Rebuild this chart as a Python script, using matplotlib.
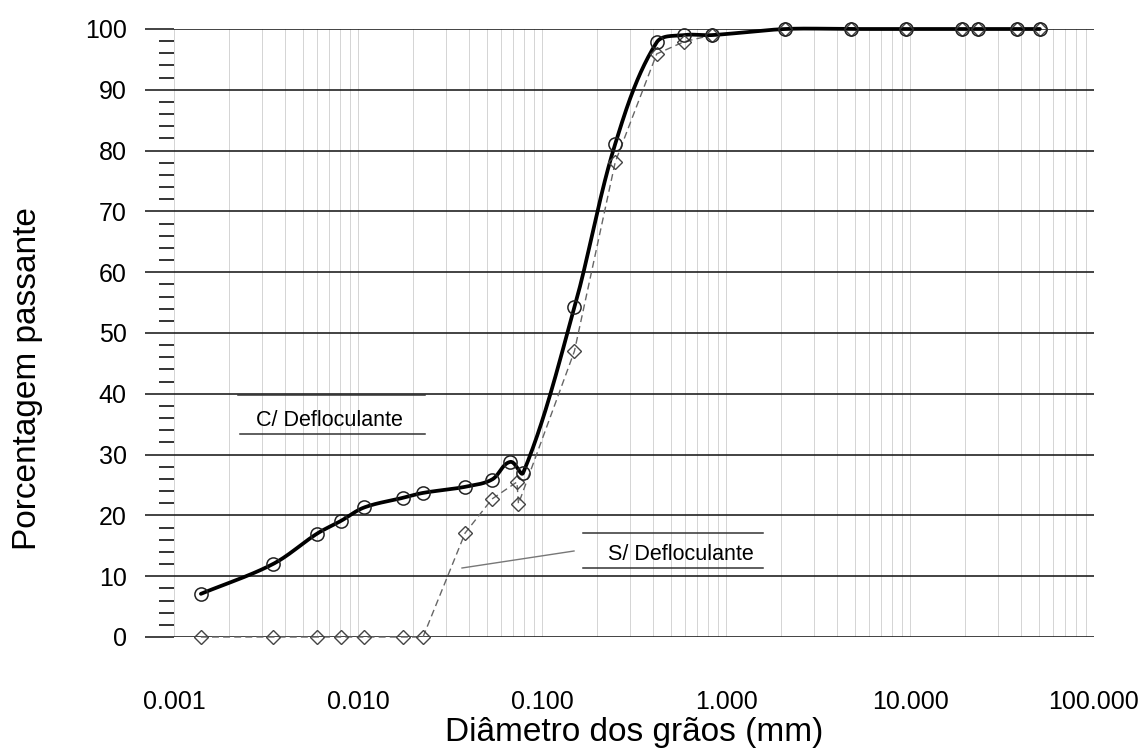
import numpy as np
import matplotlib
matplotlib.use('Agg')
import matplotlib.pyplot as plt
from matplotlib.ticker import (MultipleLocator, FormatStrFormatter, LogLocator,
                               NullFormatter, FixedLocator)
from matplotlib.lines import Line2D

plt.rcParams['font.family'] = ['Liberation Sans', 'DejaVu Sans']

# ---------------- data ----------------
diametro_com = [0.00140, 0.00345, 0.00599, 0.00808, 0.01079, 0.01757, 0.02256,
                0.0382, 0.0535, 0.0672, 0.0790, 0.150, 0.250, 0.420, 0.590,
                0.840, 2.10, 4.76, 9.52, 19.1, 23.5, 38.1, 50.8]
passante_com = [7.1, 12.0, 17.0, 19.1, 21.3, 22.9, 23.7,
                24.7, 25.9, 28.8, 27.0, 54.2, 81.1, 97.8, 99.0,
                99.0, 100, 100, 100, 100, 100, 100, 100]

diametro_sem = [0.00140, 0.00345, 0.00599, 0.00808, 0.01079, 0.01757, 0.02256,
                0.0382, 0.0535, 0.0731, 0.0745, 0.150, 0.250, 0.420, 0.590,
                0.840, 2.10, 4.76, 9.52, 19.1, 23.5, 38.1, 50.8]
passante_sem = [0, 0, 0, 0, 0, 0, 0,
                17.1, 22.7, 25.5, 21.9, 47.0, 78.1, 95.9, 97.9,
                99.0, 100, 100, 100, 100, 100, 100, 100]

x_ticks = [0.001, 0.01, 0.1, 1, 10, 100]
y_ticks = list(range(0, 101, 10))

W, H = 1148, 751


def smooth_curve(xs, ys, n=40):
    """Chord-scaled cubic Bezier smoothing (like a spreadsheet 'smoothed line')."""
    u = 184.0 * np.log10(np.asarray(xs, float))
    v = 6.07 * np.asarray(ys, float)
    P = np.column_stack([u, v])
    N = len(P)
    out = []
    t = np.linspace(0, 1, n)[:, None]
    for i in range(N - 1):
        p0 = P[i - 1] if i > 0 else P[i]
        p1, p2 = P[i], P[i + 1]
        p3 = P[i + 2] if i + 2 < N else P[i + 1]
        d = np.linalg.norm(p2 - p1)
        t1 = p2 - p0
        t1 = t1 / np.linalg.norm(t1)
        t2 = p3 - p1
        t2 = t2 / np.linalg.norm(t2)
        b1 = p1 + t1 * d / 3
        b2 = p2 - t2 * d / 3
        seg = (1 - t) ** 3 * p1 + 3 * (1 - t) ** 2 * t * b1 + 3 * (1 - t) * t ** 2 * b2 + t ** 3 * p2
        out.append(seg if i == 0 else seg[1:])
    S = np.vstack(out)
    return 10 ** (S[:, 0] / 184.0), S[:, 1] / 6.07


fig = plt.figure(figsize=(W / 100, H / 100), dpi=100)
ax = fig.add_axes([174 / W, 1 - 637 / H, 920 / W, 608 / H])

ax.set_xscale('log')
ax.set_xlim(0.001, 100)
ax.set_ylim(0, 100)

for s in ax.spines.values():
    s.set_visible(False)

ax.xaxis.set_major_locator(FixedLocator(x_ticks))
ax.xaxis.set_major_formatter(FormatStrFormatter('%.3f'))
ax.xaxis.set_minor_locator(LogLocator(base=10, subs=np.arange(2, 10)))
ax.xaxis.set_minor_formatter(NullFormatter())
ax.tick_params(axis='x', which='both', length=0, pad=38, labelsize=18)

ax.yaxis.set_major_locator(FixedLocator(y_ticks))
ax.yaxis.set_minor_locator(MultipleLocator(2))
ax.tick_params(axis='y', which='major', direction='out', length=21, width=1.2,
               color='#222222', pad=13, labelsize=18)
ax.tick_params(axis='y', which='minor', direction='out', length=11, width=1.4,
               color='#333333')

ax.set_axisbelow(True)
ax.grid(axis='x', which='both', color='#d4d4d4', lw=0.7)
ax.grid(axis='y', which='major', color='#222222', lw=1.2)

# S/ Defloculante: thin dashed line with diamonds
ax.plot(diametro_sem, passante_sem, color='#666666', lw=1.0, dashes=(5, 3),
        zorder=2, clip_on=False)
ax.plot(diametro_sem, passante_sem, ls='none', marker='D', ms=7, mfc='none',
        mec='#444444', mew=1.0, zorder=4, clip_on=False)

# C/ Defloculante: thick smoothed curve with circles
cx, cy = smooth_curve(diametro_com, passante_com)
ax.plot(cx, cy, color='black', lw=2.7, zorder=3, clip_on=False,
        solid_capstyle='round')
ax.plot(diametro_com, passante_com, ls='none', marker='o', ms=9.5, mfc='none',
        mec='#222222', mew=1.1, zorder=5, clip_on=False)

ax.set_xlabel('Diâmetro dos grãos (mm)', fontsize=24)
ax.xaxis.label.set_va('baseline')
ax.xaxis.set_label_coords(0.5, (637 - 741) / 608)
ax.set_ylabel('Porcentagem passante', fontsize=24)
ax.yaxis.label.set_va('center')
ax.yaxis.set_label_coords((28 - 174) / 920, (637 - 379) / 608)


def fig_line(x0, x1, y, color='#333333', lw=1.1):
    fig.add_artist(Line2D([x0 / W, x1 / W], [1 - y / H, 1 - y / H],
                          transform=fig.transFigure, color=color, lw=lw))


# label boxes
fig.text(329 / W, 1 - 420 / H, 'C/ Defloculante', ha='center', va='center',
         fontsize=15.5)
fig_line(238, 425, 395)
fig_line(240, 425, 434)

fig.text(681 / W, 1 - 555 / H, 'S/ Defloculante', ha='center', va='center',
         fontsize=15.5)
fig_line(583, 763, 533)
fig_line(583, 763, 568)
fig.add_artist(Line2D([574 / W, 462 / W], [1 - 551 / H, 1 - 568 / H],
                      transform=fig.transFigure, color='#777777', lw=1.0))

fig.savefig('out.png', dpi=100)
